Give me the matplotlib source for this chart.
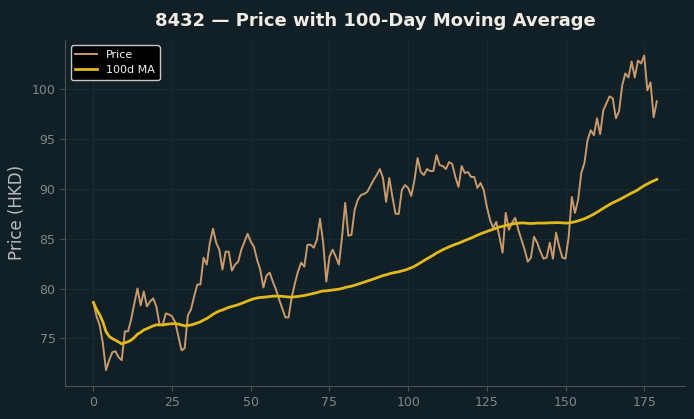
import numpy as np
import pandas as pd
import matplotlib
matplotlib.use("Agg")
import matplotlib.pyplot as plt

# daily closing price
price = [
    78.6, 77.2, 76.3, 74.5, 71.8, 72.8, 73.6, 73.7, 73.1, 72.8,
    75.7, 75.7, 76.9, 78.5, 80.0, 78.3, 79.7, 78.2, 78.7, 79.0,
    78.2, 76.4, 76.3, 77.5, 77.4, 77.2, 76.6, 75.2, 73.8, 74.0,
    77.3, 77.9, 79.2, 80.4, 80.4, 83.1, 82.4, 84.6, 86.0, 84.6,
    83.9, 81.9, 83.7, 83.7, 81.8, 82.4, 82.7, 83.9, 84.7, 85.5,
    84.7, 84.2, 82.9, 81.9, 80.1, 81.3, 81.6, 80.7, 79.9, 78.9,
    78.0, 77.1, 77.1, 79.1, 80.5, 81.7, 82.6, 82.2, 84.4, 84.4,
    84.1, 84.9, 87.0, 84.6, 80.7, 83.2, 83.9, 83.2, 82.4, 85.2,
    88.6, 85.3, 85.4, 87.9, 88.9, 89.4, 89.5, 89.7, 90.3, 90.9,
    91.4, 92.0, 91.1, 88.7, 91.1, 89.2, 87.5, 87.5, 89.9, 90.4,
    90.1, 89.3, 90.9, 93.1, 91.7, 91.4, 92.0, 91.8, 91.8, 93.4,
    92.4, 92.3, 92.0, 92.7, 92.5, 91.2, 90.2, 92.3, 91.6, 91.7,
    91.2, 91.2, 90.1, 90.6, 89.9, 88.2, 86.9, 86.1, 86.7, 85.2,
    83.6, 87.6, 85.9, 86.6, 87.1, 85.9, 84.9, 83.9, 82.7, 83.1,
    85.2, 84.6, 83.7, 83.0, 83.1, 84.6, 83.0, 85.6, 84.2, 83.1,
    83.0, 85.2, 89.2, 87.6, 88.9, 91.6, 92.6, 94.9, 95.9, 95.4,
    97.1, 95.5, 97.9, 98.6, 99.3, 99.1, 97.1, 97.8, 100.4, 101.6,
    101.2, 102.8, 101.2, 102.9, 102.6, 103.4, 99.9, 100.7, 97.2, 98.8,
]
days = np.arange(len(price))
ma100 = pd.Series(price).rolling(100, min_periods=1).mean()

bg = "#111f26"
fig = plt.figure(figsize=(6.94, 4.19), dpi=100, facecolor=bg)
ax = fig.add_axes([0.094, 0.079, 0.893, 0.826], facecolor=bg)

ax.plot(days, price, color="#c89a6c", lw=1.4, label="Price")
ax.plot(days, ma100, color="#e2b91c", lw=2.0, label="100d MA")

ax.set_title("8432 \u2014 Price with 100-Day Moving Average", color="#f0ece4",
             fontsize=13, fontweight="bold", pad=10)
ax.set_ylabel("Price (HKD)", color="#b8bcbf", fontsize=12)
ax.set_xticks([0, 25, 50, 75, 100, 125, 150, 175])
ax.set_yticks([75, 80, 85, 90, 95, 100])
ax.grid(True, color="#1b2a31", lw=0.8)
ax.set_axisbelow(True)
for s in ["top", "right"]:
    ax.spines[s].set_visible(False)
for s in ["left", "bottom"]:
    ax.spines[s].set_color("#4a5053")
ax.tick_params(colors="#4a5053", labelcolor="#80878b", labelsize=9)

leg = ax.legend(loc="upper left", fontsize=8, facecolor="#000000",
                edgecolor="#c8c8c8", framealpha=1.0)
for t in leg.get_texts():
    t.set_color("#f0f0f0")

fig.savefig("out.png", dpi=100, facecolor=bg)
